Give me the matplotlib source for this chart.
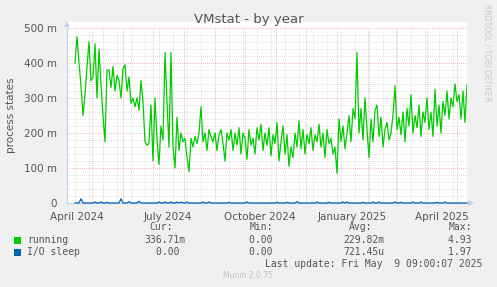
import datetime as dt
import matplotlib
matplotlib.use('Agg')
import matplotlib.pyplot as plt
import matplotlib.dates as mdates
from matplotlib.patches import Rectangle

# one value every 2 days, starting 2024-04-14 (values in milli-processes)
start_day = dt.date(2024, 4, 14)
step_days = 2

running = [
    400, 475, 400, 335, 250, 310, 390, 460, 350, 360,
    455, 300, 440, 340, 250, 175, 380, 380, 330, 390,
    320, 365, 350, 300, 385, 395, 320, 360, 285, 300,
    275, 300, 265, 350, 290, 175, 165, 170, 280, 120,
    300, 180, 110, 220, 180, 430, 290, 160, 430, 160,
    100, 245, 150, 200, 175, 185, 130, 90, 185, 160,
    190, 170, 200, 275, 175, 200, 150, 210, 190, 175,
    200, 150, 195, 210, 170, 120, 200, 180, 210, 150,
    200, 165, 215, 140, 200, 185, 125, 210, 165, 185,
    140, 215, 180, 225, 150, 200, 165, 215, 135, 195,
    170, 230, 120, 175, 220, 140, 195, 105, 160, 130,
    200, 160, 235, 155, 210, 140, 195, 170, 215, 150,
    195, 175, 225, 160, 200, 130, 210, 170, 185, 140,
    160, 85, 240, 175, 220, 155, 200, 250, 175, 270,
    240, 430, 200, 270, 180, 300, 210, 130, 240, 175,
    265, 280, 190, 245, 160, 210, 230, 180, 200, 250,
    335, 210, 245, 195, 260, 175, 270, 220, 310, 200,
    250, 215, 280, 190, 260, 230, 300, 210, 260, 190,
    325, 220, 280, 200, 290, 250, 320, 240, 300, 275,
    340, 290, 310, 240, 320, 230, 337,
]

io_sleep = [
    0, 0, 0, 12, 0, 0, 0, 0, 0, 0,
    3, 0, 0, 3, 0, 0, 2, 0, 0, 0,
    0, 0, 0, 12, 0, 0, 0, 4, 0, 0,
    0, 0, 5, 0, 0, 0, 0, 0, 0, 0,
    0, 0, 3, 0, 0, 3, 0, 0, 3, 0,
    0, 3, 0, 3, 0, 0, 3, 0, 0, 0,
    0, 0, 0, 0, 3, 0, 0, 3, 0, 0,
    0, 0, 0, 0, 0, 0, 0, 2, 0, 0,
    0, 0, 0, 0, 0, 0, 3, 0, 0, 0,
    0, 0, 0, 0, 0, 0, 0, 0, 0, 0,
    0, 2, 0, 0, 0, 0, 2, 0, 0, 0,
    0, 4, 0, 0, 0, 0, 0, 0, 0, 0,
    0, 3, 0, 0, 0, 0, 0, 2, 0, 0,
    0, 0, 0, 0, 3, 0, 3, 0, 0, 0,
    0, 0, 0, 0, 2, 0, 0, 0, 0, 3,
    0, 0, 3, 0, 0, 0, 0, 0, 0, 0,
    3, 0, 0, 2, 0, 0, 0, 0, 0, 3,
    0, 0, 0, 3, 0, 0, 0, 0, 0, 0,
    0, 2, 0, 0, 0, 3, 0, 0, 0, 0,
    0, 0, 0, 0, 0, 0, 0,
]

x_labels = ['April 2024', 'July 2024', 'October 2024', 'January 2025', 'April 2025']
x_label_dates = [dt.date(2024, 4, 16), dt.date(2024, 7, 16), dt.date(2024, 10, 16),
                 dt.date(2025, 1, 16), dt.date(2025, 4, 16)]
y_ticks = [0, 100, 200, 300, 400, 500]
y_tick_labels = ['0', '100 m', '200 m', '300 m', '400 m', '500 m']

legend_names = ['running', 'I/O sleep']
legend_colors = ['#00cc00', '#0066b3']
legend_cur = ['336.71m', '0.00']
legend_min = ['0.00', '0.00']
legend_avg = ['229.82m', '721.45u']
legend_max = ['4.93', '1.97']

W, H = 497, 287
BG = '#f0f0f0'
TXT = '#555555'

dates = [start_day + dt.timedelta(days=step_days * i) for i in range(len(running))]

fig = plt.figure(figsize=(W / 100, H / 100), dpi=100, facecolor=BG)

def fx(px):
    return px / W

def fy(py):
    return 1 - py / H

# plot area: x 67..467, y 28..203
ax = fig.add_axes([fx(67), fy(203), 400 / W, 175 / H])
ax.set_facecolor('white')
ax.set_xlim(dt.date(2024, 4, 6), dt.date(2025, 5, 11))
ax.set_ylim(0, 500)

# white canvas a little above the plot like rrdtool
fig.patches.append(Rectangle((fx(67), fy(203)), 400 / W, 181 / H,
                             transform=fig.transFigure, facecolor='white',
                             edgecolor='none', zorder=-1))

# grids
ax.xaxis.set_major_locator(mdates.MonthLocator())
biweekly = [mdates.date2num(dt.date(2024, 3, 31) + dt.timedelta(days=14 * k)) for k in range(30)]
ax.xaxis.set_minor_locator(matplotlib.ticker.FixedLocator(biweekly))
ax.set_yticks(y_ticks)
ax.set_yticks(range(0, 501, 20), minor=True)
ax.grid(which='minor', color='#d4d4d4', linestyle=(0, (1, 1.5)), linewidth=0.6)
ax.grid(which='major', color='#eaa0a0', linestyle=(0, (1, 1.5)), linewidth=0.6)
ax.set_axisbelow(True)
ax.set_xticklabels([])
ax.set_yticklabels(y_tick_labels, fontsize=7.5, color=TXT)
ax.tick_params(which='both', length=0, pad=7)

for s in ['top', 'right']:
    ax.spines[s].set_visible(False)
for s in ['left', 'bottom']:
    ax.spines[s].set_color('#c4ccf0')
    ax.spines[s].set_linewidth(0.8)

# axis arrows
fig.patches.append(plt.Polygon([[fx(64), fy(27)], [fx(70), fy(27)], [fx(67), fy(21)]],
                               closed=True, transform=fig.transFigure,
                               facecolor='#c4ccf0', edgecolor='none'))
fig.patches.append(plt.Polygon([[fx(468), fy(200)], [fx(468), fy(206)], [fx(474), fy(203)]],
                               closed=True, transform=fig.transFigure,
                               facecolor='#c4ccf0', edgecolor='none'))

ax.plot(dates, running, color=legend_colors[0], linewidth=0.9, zorder=3)
ax.plot(dates, io_sleep, color=legend_colors[1], linewidth=0.9, zorder=4, clip_on=False)

for d, lab in zip(x_label_dates, x_labels):
    ax.text(mdates.date2num(d), -0.05, lab, transform=ax.get_xaxis_transform(),
            ha='center', va='top', fontsize=7.5, color=TXT)

fig.text(fx(248.5), fy(19), 'VMstat - by year', ha='center', va='center',
         fontsize=9.5, color=TXT)
fig.text(fx(11), fy(115), 'process states', rotation=90, ha='center', va='center',
         fontsize=7.5, color=TXT)
fig.text(fx(487), fy(53), 'RRDTOOL / TOBI OETIKER', rotation=270, ha='center',
         va='center', fontsize=5.5, color='#c8c8c8')

# legend table, monospace columns
cw = 5.85
x0 = 27
mono = dict(family='DejaVu Sans Mono', fontsize=7, color=TXT, va='center', ha='left')

def col(c):
    return fx(x0 + c * cw)

for c, t in [(21, 'Cur:'), (38, 'Min:'), (55, 'Avg:'), (72, 'Max:')]:
    fig.text(col(c), fy(227.5), t, **mono)

rows_y = [240, 252]
for i in range(2):
    y = fy(rows_y[i])
    fig.patches.append(Rectangle((fx(14), fy(rows_y[i] + 3.5)), 6.5 / W, 6.5 / H,
                                 transform=fig.transFigure,
                                 facecolor=legend_colors[i], edgecolor='none'))
    fig.text(col(0), y, legend_names[i], **mono)
    for c_end, v in [(27, legend_cur[i]), (43, legend_min[i]),
                     (61, legend_avg[i]), (77, legend_max[i])]:
        # right align numbers, leaving one slot for the unit suffix
        s = v if v[-1].isalpha() else v + ' '
        fig.text(col(c_end - len(s)), y, s, **mono)

fig.text(fx(482), fy(264), 'Last update: Fri May  9 09:00:07 2025', ha='right',
         va='center', family='DejaVu Sans Mono', fontsize=7, color=TXT)
fig.text(fx(248), fy(276), 'Munin 2.0.75', ha='center', va='center',
         fontsize=5.5, color='#c0c0c0')

fig.savefig('out.png', dpi=100, facecolor=BG)
